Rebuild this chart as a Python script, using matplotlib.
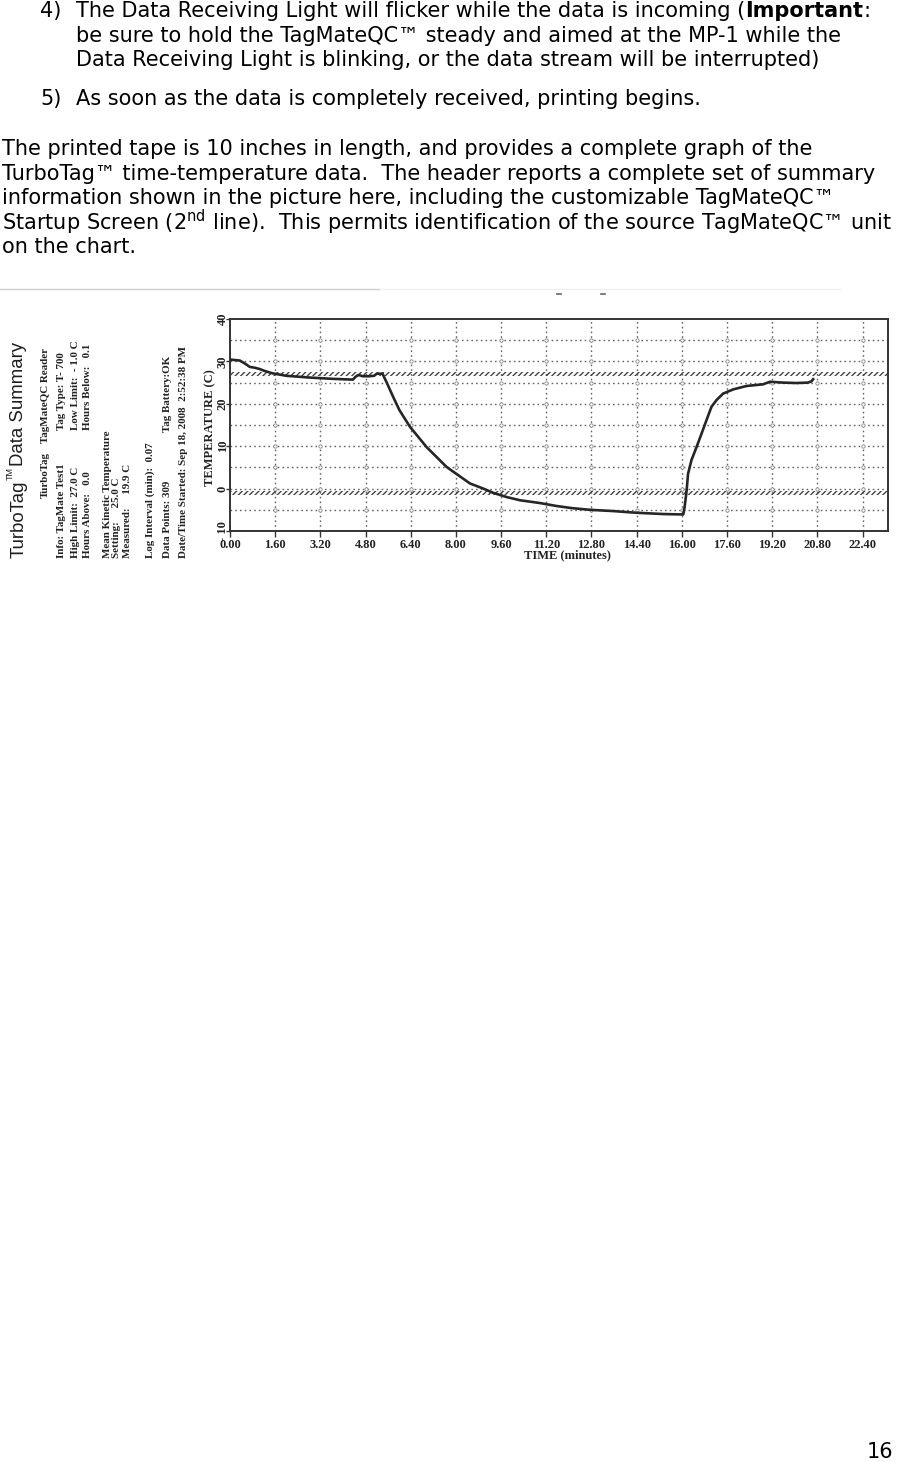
import matplotlib.pyplot as plt
import numpy as np

W, H = 899, 1462

# temperature trace
time_min = [0.05, 0.35, 0.55, 0.7, 0.88, 1.05, 1.25, 1.5, 2.0, 2.8, 3.6, 4.35, 4.45, 4.55,
            4.7, 4.9, 5.1, 5.2, 5.4, 5.55, 5.78, 6.0, 6.37, 6.96, 7.67, 8.5, 8.97, 9.32,
            9.8, 10.27, 10.97, 11.56, 12.1, 12.74, 13.57, 14.4, 15.34, 16.05, 16.1, 16.17,
            16.22, 16.34, 16.52, 16.7, 16.87, 17.05, 17.23, 17.46, 17.82, 18.29, 18.88,
            19.12, 19.58, 20.06, 20.47, 20.59, 20.65]
temp_c = [30.4, 30.2, 29.4, 28.7, 28.5, 28.2, 27.7, 27.2, 26.6, 26.2, 25.9, 25.7, 26.4, 26.8,
          26.5, 26.5, 26.6, 27.1, 27.1, 25.0, 21.6, 18.5, 14.6, 9.8, 5.1, 1.2, 0.0, -1.0,
          -2.0, -2.75, -3.4, -4.1, -4.6, -5.0, -5.3, -5.7, -6.0, -6.1, -4.3, -0.4,
          3.5, 6.7, 9.8, 13.0, 16.1, 19.3, 20.9, 22.4, 23.4, 24.2, 24.6,
          25.2, 25.0, 24.9, 25.0, 25.3, 25.8]

x_ticks = [0.0, 1.6, 3.2, 4.8, 6.4, 8.0, 9.6, 11.2, 12.8, 14.4, 16.0, 17.6, 19.2, 20.8, 22.4]
x_labels = ['0.00', '1.60', '3.20', '4.80', '6.40', '8.00', '9.60', '11.20', '12.80',
            '14.40', '16.00', '17.60', '19.20', '20.80', '22.40']
y_ticks = [-10, 0, 10, 20, 30, 40]
y_labels = ['- 10', '0', '10', '20', '30', '40']
y_grid = [-5, 0, 5, 10, 15, 20, 25, 30, 35]
high_limit = 27.0
low_limit = -1.0

# header lines printed on the tape (left column / right column)
summary_left = ['TurboTag', 'Info: TagMate Test1', 'High Limit:  27.0 C', 'Hours Above:   0.0',
                'Mean Kinetic Temperature', 'Setting:     25.0 C', 'Measured:     19.9 C',
                'Log Interval (min):  0.07', 'Data Points: 309',
                'Date/Time Started: Sep 18, 2008  2:52:38 PM']
summary_right = ['TagMateQC Reader', 'Tag Type: T- 700', 'Low Limit:  - 1.0 C',
                 'Hours Below:   0.1', 'Tag Battery:OK']

para1 = ['be sure to hold the TagMateQC\u2122 steady and aimed at the MP-1 while the',
         'Data Receiving Light is blinking, or the data stream will be interrupted)']
para2 = ['The printed tape is 10 inches in length, and provides a complete graph of the',
         'TurboTag\u2122 time-temperature data.  The header reports a complete set of summary',
         'information shown in the picture here, including the customizable TagMateQC\u2122',
         'Startup Screen (2$^{\\mathrm{nd}}$ line).  This permits identification of the source TagMateQC\u2122 unit',
         'on the chart.']


def fx(px):
    return px / W


def fy(py):
    return 1 - py / H


fig = plt.figure(figsize=(W / 100, H / 100), dpi=100)
fig.patch.set_facecolor('white')
body = dict(fontsize=15, family='DejaVu Sans', color='black', va='center')

# --- page text
r = fig.canvas.get_renderer()
fig.text(fx(40), fy(11), '4)', **body)
t = fig.text(fx(76), fy(11), 'The Data Receiving Light will flicker while the data is incoming (', **body)
x1 = t.get_window_extent(r).x1
t = fig.text(x1 / W, fy(11), 'Important', weight='bold', **body)
x1 = t.get_window_extent(r).x1
fig.text(x1 / W, fy(11), ':', **body)
for i, line in enumerate(para1):
    fig.text(fx(76), fy(35.5 + 24.5 * i), line, **body)
fig.text(fx(40), fy(99), '5)', **body)
fig.text(fx(76), fy(99), 'As soon as the data is completely received, printing begins.', **body)
for i, line in enumerate(para2):
    fig.text(fx(2), fy(149 + 24.6 * i), line, **body)
fig.text(fx(893), fy(1452), '16', ha='right', fontsize=15, family='DejaVu Sans', va='center')

# scan edge of the tape picture
fig.add_artist(plt.Line2D([0, fx(380)], [fy(289), fy(289)], color='#d0d0d0', lw=1))
fig.add_artist(plt.Line2D([fx(380), fx(840)], [fy(289), fy(289)], color='#f0f0f0', lw=1))
for px in (559, 603):
    fig.add_artist(plt.Line2D([fx(px - 2), fx(px + 2)], [fy(294), fy(294)], color='#666', lw=1.2))

# --- tape header, printed sideways
sans = dict(rotation=90, ha='center', va='bottom', family='Liberation Sans', color='#1e1e1e')
t = fig.text(fx(19), fy(558), 'TurboTag', fontsize=13.4, **sans)
y1 = t.get_window_extent(r).y1
t = fig.text(fx(10), (y1 + 1) / H, 'TM', fontsize=6.5, **sans)
y1 = t.get_window_extent(r).y1
fig.text(fx(19), (y1 + 1) / H, 'Data Summary', fontsize=13.4, **sans)

serif = dict(family='Liberation Serif', weight='bold', fontsize=7.9, rotation=90,
             ha='center', va='bottom', color='#222')
left_x = [45, 62, 76, 87, 107, 117, 127, 150, 167, 183]
left_y = [498, 558, 558, 558, 558, 558, 558, 558, 558, 558]
for s, x, y in zip(summary_left, left_x, left_y):
    fig.text(fx(x), fy(y), s, **serif)
right_x = [45, 62, 76, 87, 167]
right_y = [443, 430, 430, 430, 432]
for s, x, y in zip(summary_right, right_x, right_y):
    fig.text(fx(x), fy(y), s, **serif)

# --- chart
ax = fig.add_axes([fx(230), fy(531), (888 - 230) / W, (531 - 319) / H])
ax.set_xlim(0, 23.3)
ax.set_ylim(-10, 40)

grid_style = dict(color='#666666', lw=1.0, ls=(0, (1.2, 2.2)), zorder=1)
for y in y_grid:
    ax.axhline(y, **grid_style)
for x in x_ticks[1:]:
    ax.axvline(x, **grid_style)
gx, gy = np.meshgrid(x_ticks[1:], y_grid)
ax.plot(gx.ravel(), gy.ravel(), 'o', ms=2.4, mfc='white', mec='#888', mew=0.6, ls='none', zorder=2)

plt.rcParams['hatch.linewidth'] = 1.0
for lim in (high_limit, low_limit):
    ax.axhspan(lim - 0.5, lim + 0.5, facecolor='none', edgecolor='#444', hatch='//////', lw=0, zorder=2)

ax.plot(time_min, temp_c, color='#262626', lw=1.9, zorder=3)

tick_font = dict(family='Liberation Serif', weight='bold', size=9)
ax.set_xticks(x_ticks)
ax.set_xticklabels(x_labels, fontdict=tick_font)
ax.set_yticks(y_ticks)
ax.set_yticklabels(y_labels, fontdict=tick_font, rotation=90, va='center')
ax.tick_params(axis='both', direction='out', length=4, width=1, color='#333', pad=2,
               labelcolor='#222')
ax.tick_params(axis='y', length=3, pad=-2)
for sp in ax.spines.values():
    sp.set_color('#333')
    sp.set_linewidth(1.4)

fig.text(fx(567), fy(555), 'TIME (minutes)', ha='center', va='center', color='#222',
         family='Liberation Serif', weight='bold', fontsize=9)
fig.text(fx(210), fy(428), 'TEMPERATURE (C)', ha='center', va='center', rotation=90,
         color='#222', family='Liberation Serif', weight='bold', fontsize=9)

fig.savefig('out.png', dpi=100)
